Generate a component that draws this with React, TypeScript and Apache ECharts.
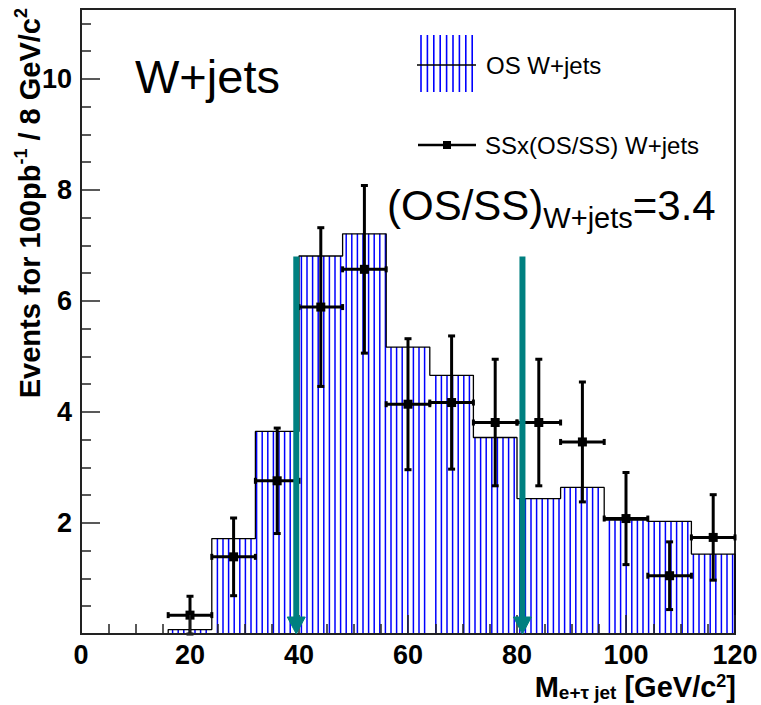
import React, { useEffect, useRef } from "react";
import * as echarts from "echarts";

// Histogram binning (GeV/c^2) and opposite-sign W+jets expectation per 8 GeV bin
const binLowEdges = [16, 24, 32, 40, 48, 56, 64, 72, 80, 88, 96, 104, 112];
const binWidth = 8;
const osWjets = [0.08, 1.72, 3.65, 6.81, 7.21, 5.17, 4.66, 3.54, 2.44, 2.64, 2.05, 2.03, 1.44];

// Same-sign sample scaled by OS/SS, with statistical errors
const ssCenters = [20, 28, 36, 44, 52, 60, 68, 76, 84, 92, 100, 108, 116];
const ssScaled = [0.34, 1.39, 2.76, 5.89, 6.57, 4.14, 4.17, 3.81, 3.81, 3.46, 2.08, 1.05, 1.74];
const ssErrors = [0.34, 0.7, 0.95, 1.43, 1.51, 1.18, 1.2, 1.14, 1.14, 1.08, 0.83, 0.61, 0.77];

// Mass window cuts marked by arrows
const windowCuts = [39.5, 81];
const windowArrowTop = 6.8;

const FONT = "'Liberation Sans', Arial, Helvetica, sans-serif";
const HATCH_STEP = 5.6;
const HATCH_COLOR = "#0000ff";
const TEAL = "#008080";

export default function App() {
  const ref = useRef<HTMLDivElement>(null);

  useEffect(() => {
    if (!ref.current) return;
    const chart = echarts.init(ref.current, null, { renderer: "svg" });

    const hatchData = binLowEdges.map((lo, i) => [lo, lo + binWidth, osWjets[i]]);
    const outline: number[][] = [[binLowEdges[0], 0]];
    binLowEdges.forEach((lo, i) => {
      outline.push([lo, osWjets[i]]);
      outline.push([lo + binWidth, osWjets[i]]);
    });
    outline.push([binLowEdges[binLowEdges.length - 1] + binWidth, 0]);
    const pointData = ssCenters.map((c, i) => [c, ssScaled[i], ssErrors[i]]);
    const arrowData = windowCuts.map((x) => [x, windowArrowTop]);

    const legendHatch: any[] = [];
    for (let i = 0; i < 9; i++) {
      const x = 421 + i * 6.4;
      legendHatch.push({
        type: "line",
        shape: { x1: x, y1: 35, x2: x, y2: 92 },
        style: { stroke: HATCH_COLOR, lineWidth: 1.6 },
      });
    }

    const option: any = {
      animation: false,
      backgroundColor: "#ffffff",
      grid: {
        left: 81,
        right: 26,
        top: 9,
        bottom: 71,
        show: true,
        borderColor: "#222",
        borderWidth: 2,
        containLabel: false,
        outerBoundsMode: "none",
      },
      xAxis: {
        type: "value",
        min: 0,
        max: 120,
        interval: 20,
        z: 5,
        splitLine: { show: false },
        axisLine: { show: true, onZero: false, lineStyle: { color: "#222", width: 2 } },
        axisTick: { show: true, inside: true, length: 19, lineStyle: { color: "#222", width: 1.5 } },
        minorTick: { show: true, splitNumber: 4, length: 10, lineStyle: { color: "#222", width: 1.5 } },
        minorSplitLine: { show: false },
        axisLabel: {
          color: "#000",
          fontFamily: FONT,
          fontWeight: "bold",
          fontSize: 27,
          margin: 7,
        },
      },
      yAxis: {
        type: "value",
        min: 0,
        max: 11.26,
        interval: 2,
        splitLine: { show: false },
        axisLine: { show: true, lineStyle: { color: "#222", width: 2 } },
        axisTick: { show: true, inside: true, length: 19, lineStyle: { color: "#222", width: 1.5 } },
        minorTick: { show: true, splitNumber: 4, length: 10, lineStyle: { color: "#222", width: 1.5 } },
        minorSplitLine: { show: false },
        axisLabel: {
          color: "#000",
          fontFamily: FONT,
          fontWeight: "bold",
          fontSize: 27,
          margin: 9,
          showMinLabel: false,
          showMaxLabel: false,
        },
      },
      series: [
        {
          name: "OS W+jets",
          type: "custom",
          z: 2,
          clip: true,
          data: hatchData,
          encode: { x: [0, 1], y: 2 },
          renderItem: (params: any, api: any) => {
            const lo = api.value(0);
            const hi = api.value(1);
            const v = api.value(2);
            const [x0, yTop] = api.coord([lo, v]);
            const [x1, yBot] = api.coord([hi, 0]);
            const origin = api.coord([0, 0])[0] + 2;
            const children: any[] = [];
            const k = Math.ceil((x0 + 0.5 - origin) / HATCH_STEP);
            for (let x = origin + k * HATCH_STEP; x < x1 - 0.5; x += HATCH_STEP) {
              children.push({
                type: "line",
                shape: { x1: x, y1: yTop, x2: x, y2: yBot },
                style: { stroke: HATCH_COLOR, lineWidth: 1.5 },
              });
            }
            return { type: "group", children };
          },
        },
        {
          name: "outline",
          type: "line",
          z: 3,
          data: outline,
          symbol: "none",
          lineStyle: { color: "#000", width: 1.3 },
        },
        {
          name: "SSx(OS/SS) W+jets",
          type: "custom",
          z: 4,
          data: pointData,
          encode: { x: 0, y: 1 },
          renderItem: (params: any, api: any) => {
            const c = api.value(0);
            const v = api.value(1);
            const e = api.value(2);
            const [cx, cy] = api.coord([c, v]);
            const yHi = api.coord([c, v + e])[1];
            const yLo = api.coord([c, Math.max(0, v - e)])[1];
            const xL = api.coord([c - binWidth / 2, v])[0];
            const xR = api.coord([c + binWidth / 2, v])[0];
            const st = { stroke: "#000", lineWidth: 3 };
            return {
              type: "group",
              children: [
                { type: "line", shape: { x1: cx, y1: yHi, x2: cx, y2: yLo }, style: st },
                { type: "line", shape: { x1: xL, y1: cy, x2: xR, y2: cy }, style: st },
                { type: "line", shape: { x1: cx - 3.5, y1: yHi, x2: cx + 3.5, y2: yHi }, style: st },
                { type: "line", shape: { x1: cx - 3.5, y1: yLo, x2: cx + 3.5, y2: yLo }, style: st },
                { type: "line", shape: { x1: xL, y1: cy - 3, x2: xL, y2: cy + 3 }, style: st },
                { type: "line", shape: { x1: xR, y1: cy - 3, x2: xR, y2: cy + 3 }, style: st },
                { type: "rect", shape: { x: cx - 4.5, y: cy - 4.5, width: 9, height: 9 }, style: { fill: "#000" } },
              ],
            };
          },
        },
        {
          name: "window",
          type: "custom",
          z: 6,
          clip: false,
          data: arrowData,
          encode: { x: 0, y: 1 },
          renderItem: (params: any, api: any) => {
            const x = api.value(0);
            const top = api.value(1);
            const [px, yT] = api.coord([x, top]);
            const yB = api.coord([x, 0])[1];
            return {
              type: "group",
              children: [
                {
                  type: "line",
                  shape: { x1: px, y1: yT, x2: px, y2: yB - 14 },
                  style: { stroke: TEAL, lineWidth: 6 },
                },
                {
                  type: "polygon",
                  shape: { points: [[px - 9, yB - 17], [px + 9, yB - 17], [px, yB]] },
                  style: { fill: TEAL, stroke: TEAL, lineWidth: 1 },
                },
              ],
            };
          },
        },
      ],
      graphic: [
        {
          type: "text",
          x: 135,
          y: 76,
          z: 10,
          style: { text: "W+jets", fill: "#000", font: `47px ${FONT}`, align: "left", verticalAlign: "middle" },
        },
        ...legendHatch,
        { type: "line", shape: { x1: 417, y1: 65, x2: 476, y2: 65 }, style: { stroke: "#000", lineWidth: 1.5 } },
        {
          type: "text",
          x: 486,
          y: 65,
          style: { text: "OS W+jets", fill: "#000", font: `24px ${FONT}`, align: "left", verticalAlign: "middle" },
        },
        { type: "line", shape: { x1: 418, y1: 145, x2: 476, y2: 145 }, style: { stroke: "#000", lineWidth: 2.5 } },
        { type: "rect", shape: { x: 443, y: 141, width: 8, height: 8 }, style: { fill: "#000" } },
        {
          type: "text",
          x: 485,
          y: 145,
          style: { text: "SSx(OS/SS) W+jets", fill: "#000", font: `24px ${FONT}`, align: "left", verticalAlign: "middle" },
        },
        {
          type: "text",
          x: 387,
          y: 178,
          z: 10,
          style: {
            text: "{m|(OS/SS)}{s|W+jets}{m|=3.4}",
            fill: "#000",
            align: "left",
            verticalAlign: "top",
            rich: {
              m: { fontFamily: FONT, fontSize: 42, lineHeight: 54, fill: "#000" },
              s: { fontFamily: FONT, fontSize: 29, lineHeight: 29, verticalAlign: "bottom", fill: "#000" },
            },
          },
        },
        {
          type: "text",
          x: 30,
          y: 8,
          rotation: Math.PI / 2,
          style: {
            text: "{t|Events for 100pb}{u|-1}{t| / 8 GeV/c}{u|2}",
            fill: "#000",
            align: "right",
            verticalAlign: "middle",
            rich: {
              t: { fontFamily: FONT, fontWeight: "bold", fontSize: 29, lineHeight: 36, fill: "#000" },
              u: { fontFamily: FONT, fontWeight: "bold", fontSize: 18, lineHeight: 18, verticalAlign: "top", fill: "#000" },
            },
          },
        },
        {
          type: "text",
          x: 736,
          y: 672,
          style: {
            text: "{t|M}{b|e+τ jet}{t| [GeV/c}{u|2}{t|]}",
            fill: "#000",
            align: "right",
            verticalAlign: "top",
            rich: {
              t: { fontFamily: FONT, fontWeight: "bold", fontSize: 29, lineHeight: 30, fill: "#000" },
              b: { fontFamily: FONT, fontWeight: "bold", fontSize: 19, lineHeight: 15, verticalAlign: "bottom", fill: "#000" },
              u: { fontFamily: FONT, fontWeight: "bold", fontSize: 18, lineHeight: 18, verticalAlign: "top", fill: "#000" },
            },
          },
        },
      ],
    };

    chart.setOption(option);
    return () => chart.dispose();
  }, []);

  return (
    <div
      ref={ref}
      style={{ position: "fixed", left: 0, top: 0, width: 761, height: 705, background: "#fff" }}
    />
  );
}
